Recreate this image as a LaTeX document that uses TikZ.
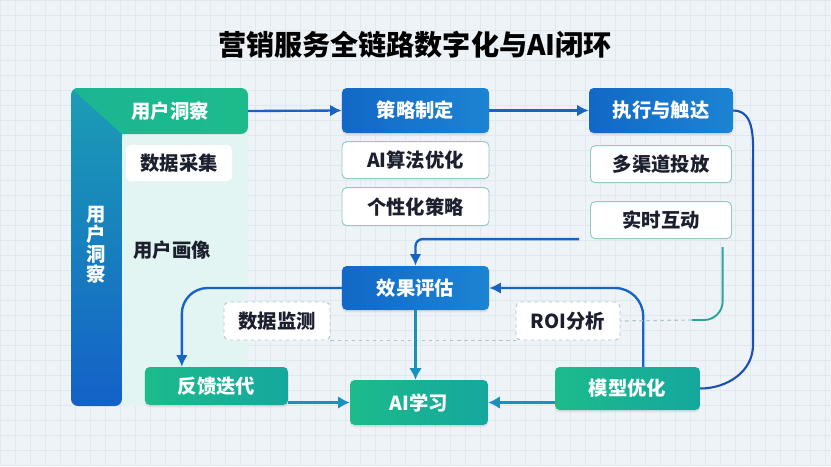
\documentclass[tikz,border=0pt]{standalone}
\usepackage{fontspec}
\setmainfont{Noto Sans CJK SC}
\usetikzlibrary{positioning,arrows.meta,shadows}
\definecolor{bluedark}{HTML}{1268C6}
\definecolor{bluelight}{HTML}{1C84D3}
\definecolor{greenA}{HTML}{1CBB8B}
\definecolor{greenB}{HTML}{15A79E}
\definecolor{barteal}{HTML}{1B9DB4}
\definecolor{barblue}{HTML}{1461C8}
\definecolor{linkblue}{HTML}{1763C6}
\definecolor{linkteal}{HTML}{1891BE}
\definecolor{loopblue}{HTML}{1A4FB5}
\definecolor{tealline}{HTML}{2BA59A}
\definecolor{subline}{HTML}{92C9C0}
\definecolor{dashline}{HTML}{B2C6CD}
\definecolor{inktext}{HTML}{1B1F2E}
\definecolor{bgpaper}{HTML}{EEF3F8}
\definecolor{bggrid}{HTML}{E0E8F0}
\definecolor{panel}{HTML}{E2F5F2}
\newcommand{\boxfont}{\bfseries\fontsize{16.5}{17}\selectfont}
\newcommand{\titlefont}{\bfseries\fontsize{24}{28}\selectfont}
\tikzstyle{bluebox}  = [rectangle, rounded corners=4pt, left color=bluedark, right color=bluelight,
                        text=white, font=\boxfont, drop shadow={opacity=0.15, shadow xshift=0pt, shadow yshift=-2pt}]
\tikzstyle{greenbox} = [rectangle, rounded corners=4pt, left color=greenA, right color=greenB,
                        text=white, font=\boxfont, drop shadow={opacity=0.15, shadow xshift=0pt, shadow yshift=-2pt}]
\tikzstyle{sub}      = [rectangle, rounded corners=4pt, draw=subline, line width=0.8pt, fill=white,
                        text=inktext, font=\boxfont]
\tikzstyle{dashbox}  = [rectangle, rounded corners=4pt, draw=dashline, dashed, line width=0.8pt, fill=white,
                        text=inktext, font=\boxfont]
\tikzstyle{ptr}      = [draw, -{Latex[length=10pt,width=10pt]}, linkblue, line width=2pt]
\tikzstyle{fat}      = [draw, -{Latex[length=10pt,width=11pt]}, linkteal, line width=3.2pt]

\begin{document}
\begin{tikzpicture}[x=0.03cm, y=-0.03cm]
	\useasboundingbox (0,0) rectangle (831,466);
	\fill[bgpaper] (0,0) rectangle (831,466);
	\draw[bggrid, line width=0.4pt, step=0.45cm] (0,0) grid (831,466);

	\node[font=\titlefont, text=black] (title) at (415,45) {营销服务全链路数字化与AI闭环};

	% left insight panel
	\fill[panel] (122,134) rectangle (248,406);
	\begin{scope}
		\clip[rounded corners=6pt] (71,88) -- (248,88) -- (248,134) -- (122,134) -- (122,406) -- (71,406) -- cycle;
		\shade[top color=barteal, bottom color=barblue] (71,88) rectangle (122,406);
		\shade[left color=greenA!80!barteal, right color=greenA] (122,134) -- (71,88) -- (248,88) -- (248,134) -- cycle;
	\end{scope}
	\node[font=\boxfont, text=white, minimum width=4.68cm, minimum height=1.38cm] (insight) at (170,111) {用户洞察};
	\node[font=\boxfont, text=white, align=center] (side) at (96,245) {用\\户\\洞\\察};
	\node[sub, draw=none, minimum width=3.18cm, minimum height=1.08cm] (collect) at (179,163) {数据采集};
	\node[font=\boxfont, text=inktext] (portrait) at (172,250) {用户画像};

	\node[bluebox, minimum width=4.41cm, minimum height=1.35cm] (strat) at (415.5,110.5) {策略制定};
	\node[sub, below=0.24cm of strat, minimum width=4.41cm, minimum height=1.11cm] (algo) {AI算法优化};
	\node[sub, below=0.24cm of algo, minimum width=4.41cm, minimum height=1.14cm] (pers) {个性化策略};
	\node[bluebox, minimum width=4.32cm, minimum height=1.35cm] (exec) at (661,110.5) {执行与触达};
	\node[sub, below=0.36cm of exec, minimum width=4.23cm, minimum height=1.11cm] (multi) {多渠道投放};
	\node[sub, below=0.54cm of multi, minimum width=4.23cm, minimum height=1.11cm] (live) {实时互动};

	\node[bluebox, minimum width=4.41cm, minimum height=1.32cm] (eval) at (415.5,288) {效果评估};
	\node[dashbox, minimum width=3.18cm, minimum height=1.14cm] (mon) at (277,321) {数据监测};
	\node[dashbox, minimum width=3.12cm, minimum height=1.14cm] (roi) at (568,321) {ROI分析};

	\node[greenbox, minimum width=4.29cm, minimum height=1.14cm] (fb) at (216.5,386) {反馈迭代};
	\node[greenbox, minimum width=4.14cm, minimum height=1.35cm] (learn) at (419,402.5) {AI学习};
	\node[greenbox, minimum width=4.35cm, minimum height=1.29cm] (model) at (627.5,388.5) {模型优化};

	\coordinate (loopTop) at (753,165);
	\coordinate (loopBot) at (753,345);
	\coordinate (roiJoin) at (692,320);

	\draw[dashline, dashed, line width=0.8pt] (mon.south east) -- (roi.south west);

	\draw[ptr] (insight.east) -- (strat.west);
	\draw[ptr] (strat.east) -- (exec.west);
	\draw[ptr, rounded corners=6pt] ([xshift=-0.33cm]live.south west) -| (eval.north);
	\draw[ptr, rounded corners=22pt] (eval.west) -| ([xshift=-1.04cm]fb.north);
	\draw[fat] (eval.south) -- (eval.south |- learn.north);
	\draw[fat] (fb.east |- learn.west) -- (learn.west);
	\draw[fat] (model.west |- learn.east) -- (learn.east);
	\draw[ptr, rounded corners=24pt] ([xshift=0.47cm]model.north) |- (eval.east);
	\draw[loopblue, line width=1.8pt] (exec.east) to[out=0, in=90] (loopTop) -- (loopBot) to[out=-90, in=0] (model.east);
	\draw[tealline, line width=1.6pt, rounded corners=16pt] ([xshift=1.85cm, yshift=-0.24cm]live.south) |- (roiJoin);
	\draw[dashline, dashed, line width=1pt] (roiJoin) -- (roi.east);
\end{tikzpicture}
\end{document}
